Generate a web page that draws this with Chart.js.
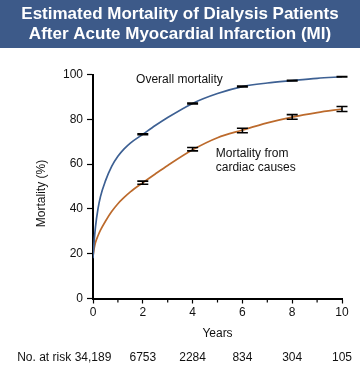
<!DOCTYPE html>
<html>
<head>
<meta charset="utf-8">
<script src="https://cdn.jsdelivr.net/npm/chart.js@4.4.1/dist/chart.umd.min.js"></script>
<style>
  html, body { margin: 0; padding: 0; background: #ffffff; }
  #wrap { position: relative; width: 360px; height: 365px; }
  canvas { display: block; }
</style>
</head>
<body>
<div id="wrap"><canvas id="c" width="360" height="365"></canvas></div>
<script>
// ---- Data ----
const titleLines = ["Estimated Mortality of Dialysis Patients", "After Acute Myocardial Infarction (MI)"];
const curveYears = [0, 0.05, 0.1, 0.2, 0.3, 0.5, 0.75, 1, 1.25, 1.5, 2, 2.5, 3, 4, 5, 6, 7, 8, 9, 10];
const overallMortality = [18, 26, 32, 40, 45.5, 52.5, 59, 63.5, 66.8, 69.4, 73.3, 77.2, 80.8, 87.1, 91.5, 94.6, 96.2, 97.3, 98.3, 99.0];
const cardiacMortality = [19, 22.5, 25, 28, 30.5, 34.5, 38.8, 42.3, 45.1, 47.6, 51.7, 55.6, 59.4, 66.4, 71.8, 75.2, 78.4, 81.0, 83.0, 84.6];
const errYears = [2, 4, 6, 8, 10];
const overallLow = [73.1, 86.9, 94.4, 97.1, 98.9];
const overallHigh = [73.5, 87.3, 94.8, 97.4, 99.1];
const cardiacLow = [51.0, 65.9, 74.0, 80.0, 83.5];
const cardiacHigh = [52.4, 67.4, 76.0, 82.1, 85.7];
const riskYears = [0, 2, 4, 6, 8, 10];
const riskLabels = ["34,189", "6753", "2284", "834", "304", "105"];
const riskTitle = "No. at risk";
const xTitle = "Years";
const yTitle = "Mortality (%)";
const overallLabel = ["Overall mortality"];
const cardiacLabel = ["Mortality from", "cardiac causes"];
const overallLabelPos = [1.73, 97.5];
const cardiacLabelPos = [4.93, 64.8];

const FONT = "'Liberation Sans', Arial, Helvetica, sans-serif";
const BLUE = '#3d6093';
const ORANGE = '#bc6a2c';

const decor = {
  id: 'decor',
  beforeDraw(chart) {
    const ctx = chart.ctx;
    ctx.save();
    ctx.fillStyle = '#ffffff';
    ctx.fillRect(0, 0, chart.width, chart.height);
    ctx.fillStyle = '#3d5a89';
    ctx.fillRect(0, 0, chart.width, 48);
    ctx.fillStyle = '#ffffff';
    ctx.font = 'bold 17px ' + FONT;
    ctx.textAlign = 'center';
    ctx.textBaseline = 'middle';
    ctx.fillText(titleLines[0], chart.width / 2, 14);
    ctx.fillText(titleLines[1], chart.width / 2, 34);
    ctx.restore();
  },
  afterDraw(chart) {
    const ctx = chart.ctx;
    const xs = chart.scales.x, ys = chart.scales.y;
    ctx.save();
    // y axis title
    ctx.fillStyle = '#111';
    ctx.font = '12px ' + FONT;
    ctx.textAlign = 'center';
    ctx.textBaseline = 'middle';
    ctx.save();
    ctx.translate(41.5, (ys.top + ys.bottom) / 2 + 7);
    ctx.rotate(-Math.PI / 2);
    ctx.fillText(yTitle, 0, 0);
    ctx.restore();
    // minor ticks at odd years
    ctx.strokeStyle = '#000';
    ctx.lineWidth = 1.2;
    for (let v = 1; v < 10; v += 2) {
      const px = xs.getPixelForValue(v);
      ctx.beginPath();
      ctx.moveTo(px, ys.bottom);
      ctx.lineTo(px, ys.bottom + 4);
      ctx.stroke();
    }
    // error bars
    const drawErr = (lows, highs, connect) => {
      ctx.strokeStyle = '#000';
      ctx.lineWidth = 1.6;
      errYears.forEach((yr, i) => {
        const px = xs.getPixelForValue(yr);
        const pl = ys.getPixelForValue(lows[i]);
        const ph = ys.getPixelForValue(highs[i]);
        ctx.beginPath();
        ctx.moveTo(px - 5.5, pl); ctx.lineTo(px + 5.5, pl);
        ctx.moveTo(px - 5.5, ph); ctx.lineTo(px + 5.5, ph);
        if (connect) { ctx.moveTo(px, pl); ctx.lineTo(px, ph); }
        ctx.stroke();
      });
    };
    drawErr(overallLow, overallHigh, false);
    drawErr(cardiacLow, cardiacHigh, true);
    // annotation text
    ctx.fillStyle = '#111';
    ctx.font = '12px ' + FONT;
    ctx.textAlign = 'left';
    ctx.textBaseline = 'middle';
    ctx.fillText(overallLabel[0], xs.getPixelForValue(overallLabelPos[0]), ys.getPixelForValue(overallLabelPos[1]));
    const cx = xs.getPixelForValue(cardiacLabelPos[0]);
    const cy = ys.getPixelForValue(cardiacLabelPos[1]);
    cardiacLabel.forEach((t, i) => ctx.fillText(t, cx, cy + i * 14));
    // number at risk row
    ctx.textAlign = 'center';
    riskYears.forEach((yr, i) => {
      ctx.fillText(riskLabels[i], xs.getPixelForValue(yr), 358);
    });
    ctx.textAlign = 'right';
    const firstW = ctx.measureText(riskLabels[0]).width;
    ctx.fillText(riskTitle, xs.getPixelForValue(riskYears[0]) - firstW / 2 - 3.5, 358);
    ctx.restore();
  }
};

new Chart(document.getElementById('c'), {
  type: 'line',
  data: {
    datasets: [
      {
        label: 'Overall mortality',
        data: curveYears.map((x, i) => ({ x: x, y: overallMortality[i] })),
        borderColor: BLUE, borderWidth: 1.7, pointRadius: 0,
        cubicInterpolationMode: 'monotone', fill: false
      },
      {
        label: 'Mortality from cardiac causes',
        data: curveYears.map((x, i) => ({ x: x, y: cardiacMortality[i] })),
        borderColor: ORANGE, borderWidth: 1.7, pointRadius: 0,
        cubicInterpolationMode: 'monotone', fill: false
      }
    ]
  },
  options: {
    responsive: false,
    animation: false,
    devicePixelRatio: 1,
    layout: { padding: { top: 74.5, right: 18, left: 0, bottom: 0 } },
    plugins: { legend: { display: false }, tooltip: { enabled: false }, title: { display: false } },
    scales: {
      x: {
        type: 'linear', min: 0, max: 10,
        ticks: { stepSize: 2, color: '#111', font: { family: FONT, size: 12 }, padding: 2, maxRotation: 0 },
        grid: { drawOnChartArea: false, drawTicks: true, tickLength: 5, color: '#000', tickWidth: 1.2 },
        border: { color: '#000', width: 2 },
        title: { display: true, text: xTitle, color: '#111', font: { family: FONT, size: 12 }, padding: { top: 0, bottom: 23.8 } },
        afterFit(scale) { scale.height = 66.5; }
      },
      y: {
        type: 'linear', min: 0, max: 100,
        ticks: { stepSize: 20, color: '#111', font: { family: FONT, size: 12 }, padding: 4 },
        grid: { drawOnChartArea: false, drawTicks: true, tickLength: 6, color: '#000', tickWidth: 1.2 },
        border: { color: '#000', width: 2 },
        title: { display: false, text: yTitle },
        afterFit(scale) { scale.width = 93; }
      }
    }
  },
  plugins: [decor]
});
</script>
</body>
</html>
